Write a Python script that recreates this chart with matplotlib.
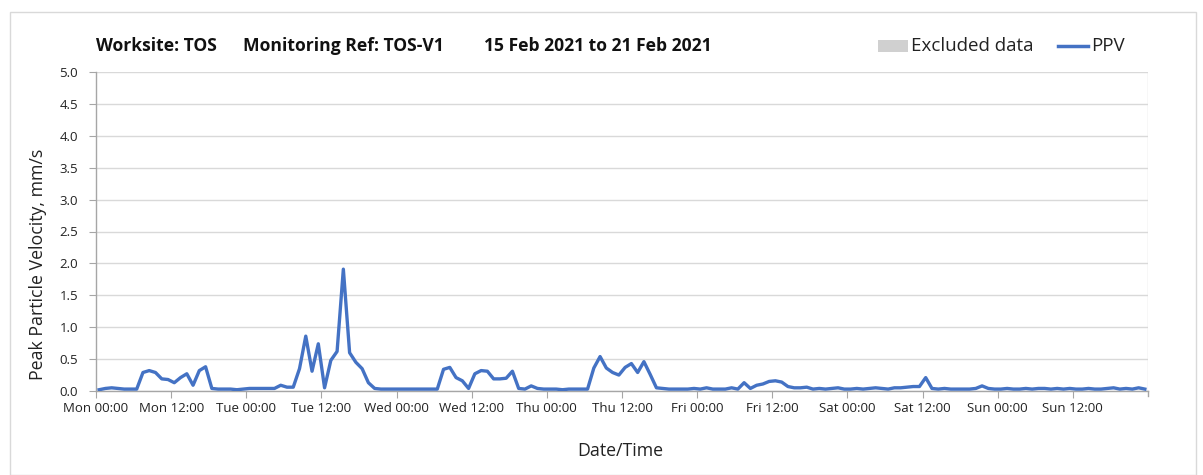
import numpy as np
import pandas as pd
import matplotlib
matplotlib.use("Agg")
import matplotlib.pyplot as plt
import matplotlib.dates as mdates
from matplotlib.patches import Rectangle
from matplotlib.lines import Line2D

# ---- data (hourly PPV, mm/s) ----
start = "2021-02-15 00:30"
mon = [0.02, 0.04, 0.05, 0.04, 0.03, 0.03, 0.03, 0.29, 0.32, 0.29, 0.19, 0.18,
       0.13, 0.21, 0.27, 0.09, 0.32, 0.38, 0.04, 0.03, 0.03, 0.03, 0.02, 0.03]
tue = [0.04, 0.04, 0.04, 0.04, 0.04, 0.09, 0.06, 0.06, 0.35, 0.86, 0.31, 0.74,
       0.05, 0.48, 0.62, 1.91, 0.60, 0.45, 0.35, 0.13, 0.04, 0.03, 0.03, 0.03]
wed = [0.03, 0.03, 0.03, 0.03, 0.03, 0.03, 0.03, 0.34, 0.37, 0.21, 0.16, 0.04,
       0.27, 0.32, 0.31, 0.19, 0.19, 0.20, 0.31, 0.04, 0.03, 0.08, 0.04, 0.03]
thu = [0.03, 0.03, 0.02, 0.03, 0.03, 0.03, 0.03, 0.36, 0.54, 0.36, 0.29, 0.25,
       0.37, 0.43, 0.29, 0.46, 0.26, 0.05, 0.04, 0.03, 0.03, 0.03, 0.03, 0.04]
fri = [0.03, 0.05, 0.03, 0.03, 0.03, 0.05, 0.03, 0.13, 0.04, 0.09, 0.11, 0.15,
       0.16, 0.14, 0.07, 0.05, 0.05, 0.06, 0.03, 0.04, 0.03, 0.04, 0.05, 0.03]
sat = [0.03, 0.04, 0.03, 0.04, 0.05, 0.04, 0.03, 0.05, 0.05, 0.06, 0.07, 0.07,
       0.21, 0.04, 0.03, 0.04, 0.03, 0.03, 0.03, 0.03, 0.04, 0.08, 0.04, 0.03]
sun = [0.03, 0.04, 0.03, 0.03, 0.04, 0.03, 0.04, 0.04, 0.03, 0.04, 0.03, 0.04,
       0.03, 0.03, 0.04, 0.03, 0.03, 0.04, 0.05, 0.03, 0.04, 0.03, 0.05, 0.03]
ppv = mon + tue + wed + thu + fri + sat + sun
times = pd.date_range(start, periods=len(ppv), freq="h")

title_parts = ["Worksite: TOS", "Monitoring Ref: TOS-V1", "15 Feb 2021 to 21 Feb 2021"]
y_label = "Peak Particle Velocity, mm/s"
x_label = "Date/Time"
legend_labels = ["Excluded data", "PPV"]
x_start, x_end = "2021-02-15", "2021-02-22"

FONT = "Open Sans"
plt.rcParams["font.family"] = [FONT, "DejaVu Sans"]

W, H = 1203, 475
fig = plt.figure(figsize=(W / 100, H / 100), dpi=100)

# outer frame
fig.patches.append(Rectangle((10 / W, 0), (1196 - 10) / W, 1 - 12 / H,
                             transform=fig.transFigure, fill=False,
                             edgecolor="#d9d9d9", linewidth=1.0))

ax = fig.add_axes([96 / W, 1 - 391 / H, (1148 - 96) / W, (391 - 72) / H])
ax.plot(times, ppv, color="#4472C4", linewidth=2.4, solid_joinstyle="round", zorder=3)

ax.set_ylim(0, 5)
ax.set_yticks(np.arange(0, 5.01, 0.5))
ax.yaxis.set_major_formatter(matplotlib.ticker.FormatStrFormatter("%.1f"))
x0, x1 = pd.Timestamp(x_start), pd.Timestamp(x_end)
ax.set_xlim(x0, x1)
major = pd.date_range(x0, x1, freq="12h")[:-1]
ax.xaxis.set_major_locator(matplotlib.ticker.FixedLocator(mdates.date2num(major)))
ax.xaxis.set_major_formatter(mdates.DateFormatter("%a %H:%M"))
ax.xaxis.set_minor_locator(mdates.DayLocator())

ax.grid(axis="y", which="major", color="#d9d9d9", linewidth=1.0)
ax.grid(axis="x", which="minor", color="#d9d9d9", linewidth=1.0)
ax.set_axisbelow(True)

ax.spines["top"].set_visible(False)
ax.spines["right"].set_visible(False)
for s in ["left", "bottom"]:
    ax.spines[s].set_color("#a6a6a6")
    ax.spines[s].set_linewidth(1.0)

ax.tick_params(axis="both", which="major", direction="out", length=5,
               color="#a6a6a6", labelsize=9.5, labelcolor="#222222")
ax.tick_params(axis="x", which="minor", length=0)
ax.tick_params(axis="x", pad=3)
ax.tick_params(axis="y", pad=8)
# closing tick at right end
ax.plot([x1, x1], [0, -0.08], color="#a6a6a6", linewidth=1.0, clip_on=False)

fig.text(38 / W, 1 - 264 / H, y_label, rotation=90, ha="center", va="center",
         fontsize=12.8, color="#222222")
fig.text(620 / W, 1 - 451 / H, x_label, ha="center", va="center",
         fontsize=12.8, color="#222222")

# title pieces
tx = [96, 243, 484]
for x, t in zip(tx, title_parts):
    fig.text(x / W, 1 - 46 / H, t, ha="left", va="center", fontsize=12.6,
             fontweight="bold", color="#111111")

# legend (manual)
fig.patches.append(Rectangle((878 / W, 1 - 52 / H), 30 / W, 12 / H,
                             transform=fig.transFigure, facecolor="#d0d0d0",
                             edgecolor="none"))
fig.text(911 / W, 1 - 46 / H, legend_labels[0], ha="left", va="center",
         fontsize=13.5, color="#222222")
fig.lines.append(Line2D([1058 / W, 1088 / W], [1 - 46 / H, 1 - 46 / H],
                        transform=fig.transFigure, color="#4472C4", linewidth=2.5))
fig.text(1091 / W, 1 - 46 / H, legend_labels[1], ha="left", va="center",
         fontsize=13.5, color="#222222")

fig.savefig("out.png", dpi=100, facecolor="white")
